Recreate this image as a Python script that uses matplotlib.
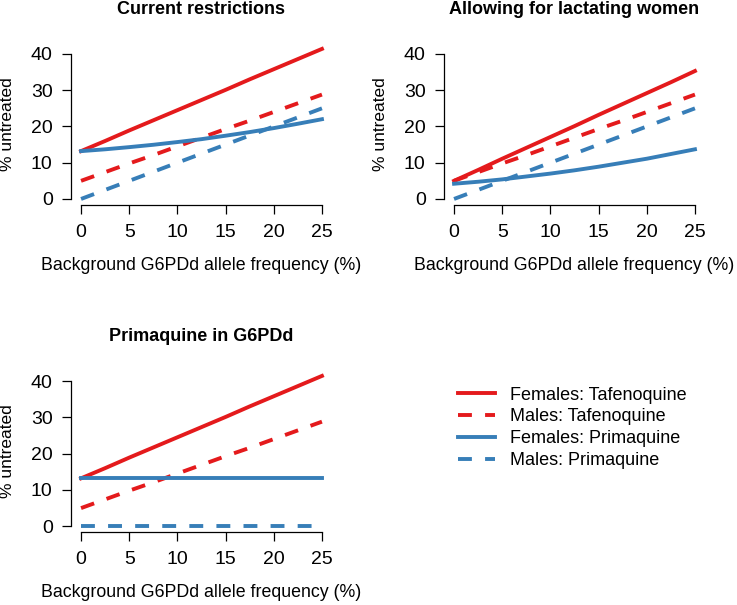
import matplotlib
matplotlib.use('Agg')
import matplotlib.pyplot as plt
from matplotlib.lines import Line2D

plt.rcParams['font.family'] = ['Liberation Sans', 'DejaVu Sans']
plt.rcParams['lines.scale_dashes'] = False

red = '#E41A1C'
blue = '#377EB8'

# allele frequency (%)
freq = [0, 2.5, 5, 7.5, 10, 12.5, 15, 17.5, 20, 22.5, 25]

# Current restrictions
cur_f_taf = [13.2, 16.0, 18.9, 21.7, 24.5, 27.3, 30.1, 33.0, 35.8, 38.6, 41.4]
cur_m_taf = [5.0, 7.4, 9.8, 12.1, 14.5, 16.9, 19.3, 21.6, 24.0, 26.4, 28.8]
cur_f_pri = [13.2, 13.7, 14.3, 14.95, 15.7, 16.5, 17.45, 18.45, 19.55, 20.75, 22.0]
cur_m_pri = [0, 2.5, 5, 7.5, 10, 12.5, 15, 17.5, 20, 22.5, 25]

# Allowing for lactating women
lac_f_taf = [5.0, 8.0, 11.1, 14.1, 17.1, 20.1, 23.2, 26.2, 29.2, 32.2, 35.3]
lac_m_taf = [5.0, 7.4, 9.8, 12.1, 14.5, 16.9, 19.3, 21.6, 24.0, 26.4, 28.8]
lac_f_pri = [4.2, 4.75, 5.4, 6.2, 7.0, 7.9, 8.9, 10.0, 11.1, 12.4, 13.7]
lac_m_pri = [0, 2.5, 5, 7.5, 10, 12.5, 15, 17.5, 20, 22.5, 25]

# Primaquine in G6PDd
pq_f_taf = [13.2, 16.0, 18.9, 21.7, 24.5, 27.3, 30.1, 33.0, 35.8, 38.6, 41.4]
pq_m_taf = [5.0, 7.4, 9.8, 12.1, 14.5, 16.9, 19.3, 21.6, 24.0, 26.4, 28.8]
pq_f_pri = [13.2] * 11
pq_m_pri = [0] * 11

titles = ['Current restrictions', 'Allowing for lactating women', 'Primaquine in G6PDd']
panels = [
    (cur_f_taf, cur_m_taf, cur_f_pri, cur_m_pri),
    (lac_f_taf, lac_m_taf, lac_f_pri, lac_m_pri),
    (pq_f_taf, pq_m_taf, pq_f_pri, pq_m_pri),
]
legend_labels = ['Females: Tafenoquine', 'Males: Tafenoquine',
                 'Females: Primaquine', 'Males: Primaquine']

dash = (0, (10, 9.5))
styles = [(red, '-'), (red, dash), (blue, '-'), (blue, dash)]
lw = 2.8

fig = plt.figure(figsize=(7.37, 6.05), dpi=100)
boxes = [
    [0.0969, 0.6612, 0.3530, 0.2679],
    [0.6030, 0.6612, 0.3530, 0.2679],
    [0.0969, 0.1202, 0.3530, 0.2684],
]

for box, title, series in zip(boxes, titles, panels):
    ax = fig.add_axes(box)
    for vals, (col, ls) in zip(series, styles):
        ax.plot(freq, vals, color=col, linestyle=ls, linewidth=lw)
    ax.set_xlim(-1, 26)
    ax.set_ylim(-1.66, 43.06)
    ax.set_xticks([0, 5, 10, 15, 20, 25])
    ax.set_yticks([0, 10, 20, 30, 40])
    ax.spines['top'].set_visible(False)
    ax.spines['right'].set_visible(False)
    ax.spines['left'].set_bounds(0, 40)
    ax.spines['bottom'].set_bounds(0, 25)
    for s in ['left', 'bottom']:
        ax.spines[s].set_linewidth(0.9)
    ax.tick_params(direction='out', length=6.5, width=0.9, labelsize=14, pad=7)
    ax.set_title(title, fontsize=13, fontweight='bold', pad=20.5)
    ax.set_xlabel('Background G6PDd allele frequency (%)', fontsize=12.8)
    ax.xaxis.set_label_coords(0.5, -0.32)
    ax.set_ylabel('% untreated', fontsize=12.5)
    ax.yaxis.set_label_coords(-0.217, 0.5)

handles = [Line2D([], [], color=c, linestyle=ls, linewidth=lw) for c, ls in styles]
fig.legend(handles, legend_labels, loc='upper left', bbox_to_anchor=(0.6214, 0.361),
           frameon=False, fontsize=13, handlelength=2.05, handletextpad=0.83,
           labelspacing=0.27, borderpad=0, borderaxespad=0)

fig.savefig('out.png', dpi=100)
